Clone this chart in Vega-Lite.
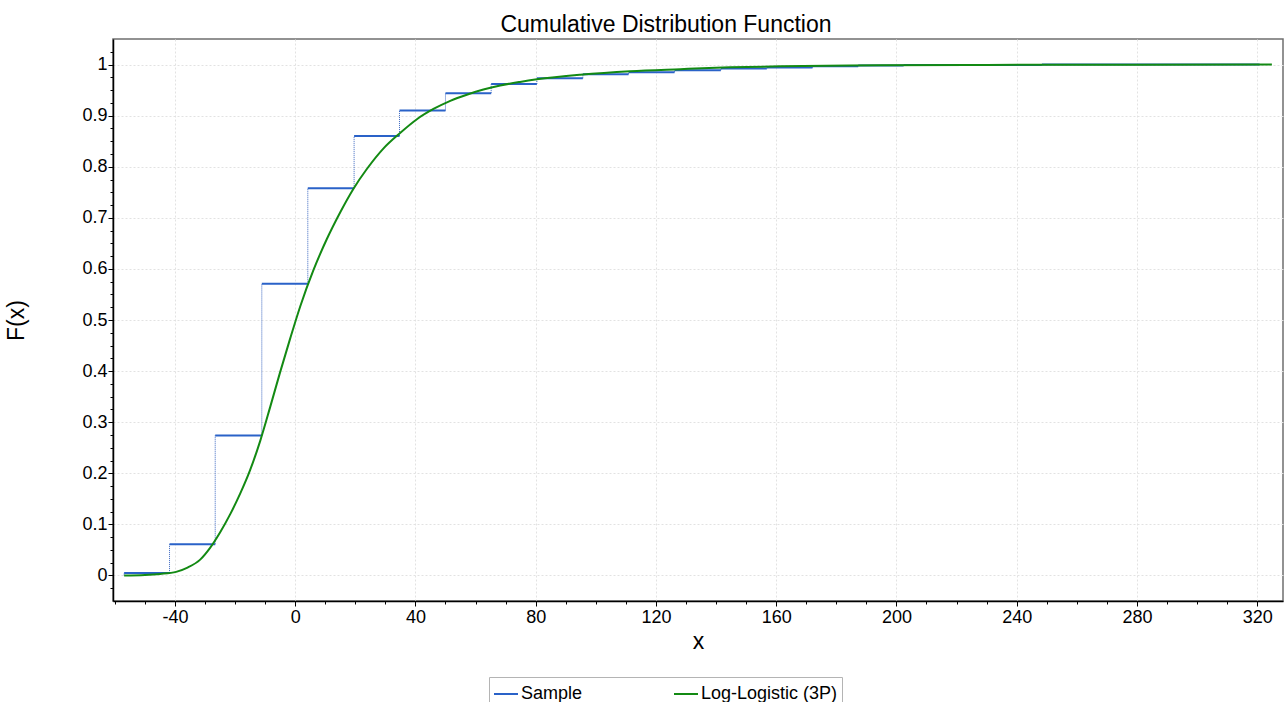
{
  "$schema": "https://vega.github.io/schema/vega-lite/v6.json",
  "width": 1170,
  "height": 562,
  "autosize": {"type": "none"},
  "padding": {"left": 113, "top": 39, "right": 2, "bottom": 101},
  "background": "white",
  "config": {
    "font": "Liberation Sans",
    "view": {"stroke": "#6f6f6f", "strokeWidth": 1.5}
  },
  "title": {
    "text": "Cumulative Distribution Function",
    "fontSize": 23,
    "fontWeight": "normal",
    "color": "black",
    "anchor": "middle",
    "dx": -32,
    "dy": 24,
    "offset": 3,
    "baseline": "bottom"
  },
  "resolve": {"axis": {"x": "independent", "y": "independent"}},
  "datasets": {
    "steps": [
      {"x0": -56.9, "x1": -41.8, "y": 0.005, "yprev": 0, "series": "Sample"},
      {"x0": -41.8, "x1": -26.6, "y": 0.061, "yprev": 0.005, "series": "Sample"},
      {"x0": -26.6, "x1": -11.1, "y": 0.274, "yprev": 0.061, "series": "Sample"},
      {"x0": -11.1, "x1": 4.2, "y": 0.571, "yprev": 0.274, "series": "Sample"},
      {"x0": 4.2, "x1": 19.6, "y": 0.758, "yprev": 0.571, "series": "Sample"},
      {"x0": 19.6, "x1": 34.7, "y": 0.86, "yprev": 0.758, "series": "Sample"},
      {"x0": 34.7, "x1": 50.0, "y": 0.91, "yprev": 0.86, "series": "Sample"},
      {"x0": 50.0, "x1": 65.2, "y": 0.944, "yprev": 0.91, "series": "Sample"},
      {"x0": 65.2, "x1": 80.4, "y": 0.962, "yprev": 0.944, "series": "Sample"},
      {"x0": 80.4, "x1": 95.7, "y": 0.973, "yprev": 0.962, "series": "Sample"},
      {"x0": 95.7, "x1": 110.9, "y": 0.981, "yprev": 0.973, "series": "Sample"},
      {"x0": 110.9, "x1": 126.2, "y": 0.985, "yprev": 0.981, "series": "Sample"},
      {"x0": 126.2, "x1": 141.6, "y": 0.989, "yprev": 0.985, "series": "Sample"},
      {"x0": 141.6, "x1": 156.9, "y": 0.9925, "yprev": 0.989, "series": "Sample"},
      {"x0": 156.9, "x1": 172.1, "y": 0.994, "yprev": 0.9925, "series": "Sample"},
      {"x0": 172.1, "x1": 187.3, "y": 0.9965, "yprev": 0.994, "series": "Sample"},
      {"x0": 187.3, "x1": 202.4, "y": 0.998, "yprev": 0.9965, "series": "Sample"},
      {"x0": 202.4, "x1": 248.4, "y": 0.9993, "yprev": 0.998, "series": "Sample"},
      {"x0": 248.4, "x1": 320.8, "y": 1.0, "yprev": 0.9993, "series": "Sample"}
    ],
    "fit": [
      {"x": -56.9, "y": 0, "series": "Log-Logistic (3P)"},
      {"x": -50, "y": 0.001, "series": "Log-Logistic (3P)"},
      {"x": -44.9, "y": 0.003, "series": "Log-Logistic (3P)"},
      {"x": -39.6, "y": 0.007, "series": "Log-Logistic (3P)"},
      {"x": -36.0, "y": 0.015, "series": "Log-Logistic (3P)"},
      {"x": -31.6, "y": 0.031, "series": "Log-Logistic (3P)"},
      {"x": -28.3, "y": 0.054, "series": "Log-Logistic (3P)"},
      {"x": -25.0, "y": 0.084, "series": "Log-Logistic (3P)"},
      {"x": -21.6, "y": 0.12, "series": "Log-Logistic (3P)"},
      {"x": -18.3, "y": 0.16, "series": "Log-Logistic (3P)"},
      {"x": -15.0, "y": 0.206, "series": "Log-Logistic (3P)"},
      {"x": -11.6, "y": 0.264, "series": "Log-Logistic (3P)"},
      {"x": -8.3, "y": 0.33, "series": "Log-Logistic (3P)"},
      {"x": -5.0, "y": 0.398, "series": "Log-Logistic (3P)"},
      {"x": -1.7, "y": 0.463, "series": "Log-Logistic (3P)"},
      {"x": 1.7, "y": 0.527, "series": "Log-Logistic (3P)"},
      {"x": 6.1, "y": 0.598, "series": "Log-Logistic (3P)"},
      {"x": 10.5, "y": 0.658, "series": "Log-Logistic (3P)"},
      {"x": 15.0, "y": 0.711, "series": "Log-Logistic (3P)"},
      {"x": 19.4, "y": 0.757, "series": "Log-Logistic (3P)"},
      {"x": 23.9, "y": 0.796, "series": "Log-Logistic (3P)"},
      {"x": 29.4, "y": 0.836, "series": "Log-Logistic (3P)"},
      {"x": 34.9, "y": 0.866, "series": "Log-Logistic (3P)"},
      {"x": 40.5, "y": 0.893, "series": "Log-Logistic (3P)"},
      {"x": 46.0, "y": 0.913, "series": "Log-Logistic (3P)"},
      {"x": 51.6, "y": 0.929, "series": "Log-Logistic (3P)"},
      {"x": 57.1, "y": 0.941, "series": "Log-Logistic (3P)"},
      {"x": 62.6, "y": 0.951, "series": "Log-Logistic (3P)"},
      {"x": 68.2, "y": 0.959, "series": "Log-Logistic (3P)"},
      {"x": 74.8, "y": 0.966, "series": "Log-Logistic (3P)"},
      {"x": 80.4, "y": 0.971, "series": "Log-Logistic (3P)"},
      {"x": 94.8, "y": 0.98, "series": "Log-Logistic (3P)"},
      {"x": 111.4, "y": 0.987, "series": "Log-Logistic (3P)"},
      {"x": 128.1, "y": 0.991, "series": "Log-Logistic (3P)"},
      {"x": 144.7, "y": 0.9945, "series": "Log-Logistic (3P)"},
      {"x": 161.3, "y": 0.9966, "series": "Log-Logistic (3P)"},
      {"x": 194.6, "y": 0.9984, "series": "Log-Logistic (3P)"},
      {"x": 230, "y": 0.9993, "series": "Log-Logistic (3P)"},
      {"x": 280, "y": 0.9997, "series": "Log-Logistic (3P)"},
      {"x": 324.9, "y": 0.9999, "series": "Log-Logistic (3P)"}
    ]
  },
  "layer": [
    {
      "data": {"name": "steps"},
      "mark": {"type": "rule", "strokeWidth": 1, "strokeDash": [1, 1], "color": "#3a66c0"},
      "encoding": {
        "x": {
          "field": "x0",
          "type": "quantitative",
          "title": "x",
          "scale": {"domain": [-60.6, 328.6], "nice": false, "zero": false},
          "axis": {
            "orient": "bottom",
            "values": [-40, 0, 40, 80, 120, 160, 200, 240, 280, 320],
            "labelExpr": "'' + datum.value",
            "labelFontSize": 18,
            "labelColor": "black",
            "labelPadding": 2,
            "labelOverlap": false,
            "labelFlush": false,
            "tickColor": "black",
            "tickWidth": 1,
            "tickSize": 5,
            "domainColor": "black",
            "domainWidth": 1.5,
            "grid": true,
            "gridColor": "#e2e2e2",
            "gridDash": [2, 2],
            "gridWidth": 1,
            "titleFontSize": 23,
            "titleFontWeight": "normal",
            "titleColor": "black",
            "titleY": 47,
            "titleBaseline": "alphabetic"
          }
        },
        "y": {
          "field": "yprev",
          "type": "quantitative",
          "title": "F(x)",
          "scale": {"domain": [-0.05, 1.05], "nice": false, "zero": false},
          "axis": {
            "orient": "left",
            "values": [0, 0.1, 0.2, 0.3, 0.4, 0.5, 0.6, 0.7, 0.8, 0.9, 1],
            "labelExpr": "'' + datum.value",
            "labelFontSize": 18,
            "labelColor": "black",
            "labelPadding": 1,
            "labelOverlap": false,
            "labelFlush": false,
            "tickColor": "black",
            "tickWidth": 1,
            "tickSize": 5,
            "domainColor": "black",
            "domainWidth": 1.5,
            "grid": true,
            "gridColor": "#e2e2e2",
            "gridDash": [2, 2],
            "gridWidth": 1,
            "titleFontSize": 23,
            "titleFontWeight": "normal",
            "titleColor": "black",
            "titleAngle": 270,
            "titleX": -90,
            "titleY": 281,
            "titleAlign": "center",
            "titleBaseline": "alphabetic"
          }
        },
        "y2": {"field": "y"}
      }
    },
    {
      "data": {"name": "steps"},
      "mark": {"type": "rule", "strokeWidth": 2, "strokeCap": "butt"},
      "encoding": {
        "x": {
          "field": "x0",
          "type": "quantitative",
          "axis": {
            "orient": "bottom",
            "title": null,
            "values": [-60, -50, -30, -20, -10, 10, 20, 30, 50, 60, 70, 90, 100, 110, 130, 140, 150, 170, 180, 190, 210, 220, 230, 250, 260, 270, 290, 300, 310],
            "labels": false,
            "grid": false,
            "domain": false,
            "tickColor": "black",
            "tickWidth": 1,
            "tickSize": 3
          }
        },
        "x2": {"field": "x1"},
        "y": {
          "field": "y",
          "type": "quantitative",
          "axis": {
            "orient": "left",
            "title": null,
            "values": [-0.025, 0.025, 0.05, 0.075, 0.125, 0.15, 0.175, 0.225, 0.25, 0.275, 0.325, 0.35, 0.375, 0.425, 0.45, 0.475, 0.525, 0.55, 0.575, 0.625, 0.65, 0.675, 0.725, 0.75, 0.775, 0.825, 0.85, 0.875, 0.925, 0.95, 0.975, 1.025],
            "labels": false,
            "grid": false,
            "domain": false,
            "tickColor": "black",
            "tickWidth": 1,
            "tickSize": 3
          }
        },
        "color": {
          "field": "series",
          "type": "nominal",
          "scale": {"domain": ["Sample", "Log-Logistic (3P)"], "range": ["#2a62c8", "#138a13"]},
          "legend": {
            "orient": "none",
            "legendX": 376,
            "legendY": 638,
            "direction": "horizontal",
            "columns": 2,
            "gridAlign": "all",
            "columnPadding": 12,
            "symbolType": "stroke",
            "symbolSize": 576,
            "symbolStrokeWidth": 2,
            "labelFontSize": 18,
            "labelColor": "black",
            "labelOffset": 2,
            "title": null,
            "strokeColor": "#b4b4b4",
            "fillColor": "white",
            "padding": 4
          }
        }
      }
    },
    {
      "data": {"name": "fit"},
      "mark": {"type": "line", "strokeWidth": 2, "interpolate": "monotone"},
      "encoding": {
        "x": {"field": "x", "type": "quantitative", "axis": null},
        "y": {"field": "y", "type": "quantitative", "axis": null},
        "color": {"field": "series", "type": "nominal"}
      }
    }
  ]
}
